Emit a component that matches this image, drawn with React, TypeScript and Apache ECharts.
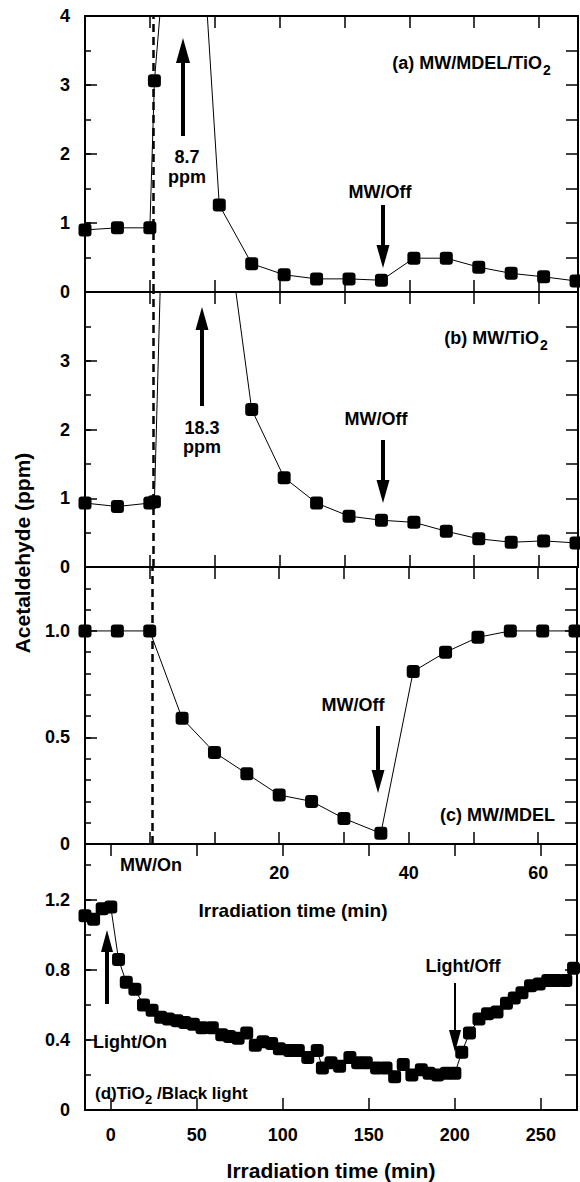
import React, { useEffect, useRef } from "react";
import * as echarts from "echarts";

const FONT = "'Liberation Sans', Arial, Helvetica, sans-serif";

// ---- Data (min, ppm) ----
const timeA = [-10, -5, 0, 0.7, 5.7, 10.7, 15.7, 20.7, 25.7, 30.7, 35.7, 40.7, 45.7, 50.7, 55.7, 60.7, 65.7];
const valA = [0.9, 0.93, 0.93, 3.06, 8.7, 1.26, 0.41, 0.25, 0.19, 0.19, 0.17, 0.49, 0.49, 0.36, 0.27, 0.22, 0.16];

const timeB = [-10, -5, 0, 0.7, 5.7, 10.7, 15.7, 20.7, 25.7, 30.7, 35.7, 40.7, 45.7, 50.7, 55.7, 60.7, 65.7];
const valB = [0.93, 0.88, 0.93, 0.95, 18.3, 5.8, 2.29, 1.3, 0.93, 0.74, 0.68, 0.65, 0.52, 0.41, 0.36, 0.38, 0.35];

const timeC = [-10, -5, 0, 5, 10, 15, 20, 25, 30, 35.7, 40.7, 45.7, 50.7, 55.7, 60.7, 65.7];
const valC = [1.0, 1.0, 1.0, 0.59, 0.43, 0.33, 0.23, 0.2, 0.12, 0.05, 0.81, 0.9, 0.97, 1.0, 1.0, 1.0];

const timeD = [
  -15, -10, -5, 0, 4.5, 9, 14, 19, 24, 29, 33.5, 38.5, 43, 48, 53, 59, 64.5, 69, 74, 79, 84, 88.5,
  93.5, 98, 104, 109, 114.5, 120, 123, 128, 133, 139, 143.5, 148.5, 154.5, 160, 165, 170, 175, 180.5,
  185, 190, 195, 200, 204, 208.5, 214, 219, 224.5, 230, 234.5, 239, 244, 249, 254, 259, 264.5, 269,
];
const valD = [
  1.11, 1.09, 1.15, 1.16, 0.86, 0.73, 0.69, 0.6, 0.57, 0.53, 0.52, 0.51, 0.5, 0.49, 0.47, 0.47, 0.43, 0.42,
  0.41, 0.44, 0.37, 0.39, 0.38, 0.35, 0.34, 0.34, 0.3, 0.34, 0.24, 0.27, 0.25, 0.3, 0.27, 0.27, 0.24, 0.24,
  0.19, 0.26, 0.2, 0.23, 0.21, 0.2, 0.21, 0.21, 0.33, 0.44, 0.52, 0.55, 0.56, 0.61, 0.64, 0.67, 0.71, 0.72,
  0.74, 0.74, 0.74, 0.81,
];

const MW_ON_TIME = 0.45;
const topAxisLabels = [20, 40, 60];
const bottomAxisStep = 50;

const yCfg = [
  { min: 0, max: 4, major: 1, minor: 0.5, hideMax: false },
  { min: 0, max: 4, major: 1, minor: 0.5, hideMax: true },
  { min: 0, max: 1.3, major: 0.5, minor: 0.1, hideMax: true },
  { min: 0, max: 1.52, major: 0.4, minor: 0.2, hideMax: true },
];

const grids = [
  { left: 85, right: 2, top: 16, height: 276 },
  { left: 85, right: 2, top: 292, height: 275 },
  { left: 85, right: 2, top: 567, height: 277 },
  { left: 85, right: 2, top: 844, height: 274 },
];

const pairs = (t: number[], v: number[]) => t.map((x, i) => [x, v[i]]);

function arrow(x: number, tail: number, tip: number, shaftW: number, headW: number, headH: number) {
  const up = tip < tail;
  const base = up ? tip + headH : tip - headH;
  const y0 = Math.min(base, tail);
  const y1 = Math.max(base, tail);
  return [
    { type: "rect", z: 100, shape: { x: x - shaftW / 2, y: y0, width: shaftW, height: y1 - y0 }, style: { fill: "#000" } },
    {
      type: "polygon",
      z: 100,
      shape: { points: [[x - headW / 2, base], [x + headW / 2, base], [x, tip]] },
      style: { fill: "#000" },
    },
  ];
}

function txt(text: string, x: number, y: number, size = 18, align = "center", rotation = 0) {
  return {
    type: "text",
    z: 100,
    x,
    y,
    rotation,
    style: {
      text,
      fill: "#000",
      font: `bold ${size}px ${FONT}`,
      align,
      verticalAlign: "middle",
      textAlign: align,
      textVerticalAlign: "middle",
    },
  };
}

export default function App() {
  const ref = useRef<HTMLDivElement>(null);
  useEffect(() => {
    const chart = echarts.init(ref.current!, null, { renderer: "svg" });
    const axisLine = { show: true, onZero: false, lineStyle: { color: "#000", width: 2 } };
    const tickStyle = { color: "#000", width: 1.5 };
    const labelBase = { color: "#000", fontFamily: FONT, fontWeight: "bold", fontSize: 18 };

    const xAxes: any[] = [];
    for (let g = 0; g < 3; g++) {
      xAxes.push({
        type: "value",
        gridIndex: g,
        position: "bottom",
        min: -10,
        max: 66,
        interval: 10,
        axisLine,
        axisTick: { show: true, inside: true, length: 12, lineStyle: tickStyle },
        axisLabel:
          g === 2
            ? { ...labelBase, margin: 20, formatter: (v: number) => (topAxisLabels.includes(v) ? String(v) : "") }
            : { show: false },
        splitLine: { show: false },
      });
      xAxes.push({
        type: "value",
        gridIndex: g,
        position: "top",
        min: -10,
        max: 66,
        interval: 10,
        axisLine,
        axisTick: { show: true, inside: true, length: 12, lineStyle: tickStyle },
        axisLabel: { show: false },
        splitLine: { show: false },
      });
    }
    xAxes.push({
      type: "value",
      gridIndex: 3,
      position: "bottom",
      min: -15,
      max: 271,
      splitNumber: 5,
      axisLine,
      axisTick: { show: true, inside: true, length: 12, lineStyle: tickStyle },
      axisLabel: {
        ...labelBase,
        margin: 16,
        formatter: (v: number) => (v % bottomAxisStep === 0 ? String(v) : ""),
      },
      splitLine: { show: false },
      name: "Irradiation time (min)",
      nameLocation: "middle",
      nameGap: 50,
      nameTextStyle: { ...labelBase, fontSize: 21 },
    });
    xAxes.push({
      type: "value",
      gridIndex: 3,
      position: "top",
      min: -15,
      max: 271,
      splitNumber: 5,
      axisLine,
      axisTick: { show: true, inside: true, length: 12, lineStyle: tickStyle },
      axisLabel: { show: false },
      splitLine: { show: false },
    });

    const yAxes: any[] = [];
    yCfg.forEach((c, g) => {
      yAxes.push({
        type: "value",
        gridIndex: g,
        position: "left",
        min: c.min,
        max: c.max,
        interval: c.major,
        axisLine,
        axisTick: { show: true, inside: true, length: 12, lineStyle: tickStyle },
        axisLabel: {
          ...labelBase,
          margin: 15,
          showMaxLabel: !c.hideMax,
          formatter: (v: number) => (v === 0 ? "0" : c.major < 1 ? v.toFixed(1) : String(v)),
        },
        splitLine: { show: false },
      });
      yAxes.push({
        type: "value",
        gridIndex: g,
        position: "left",
        min: c.min,
        max: c.max,
        interval: c.minor,
        axisLine: { show: false, onZero: false },
        axisTick: { show: true, inside: true, length: 6, lineStyle: tickStyle },
        axisLabel: { show: false },
        splitLine: { show: false },
      });
      yAxes.push({
        type: "value",
        gridIndex: g,
        position: "right",
        min: c.min,
        max: c.max,
        interval: c.minor,
        axisLine,
        axisTick: { show: true, inside: true, length: 12, lineStyle: tickStyle },
        axisLabel: { show: false },
        splitLine: { show: false },
      });
    });

    const datasets = [pairs(timeA, valA), pairs(timeB, valB), pairs(timeC, valC), pairs(timeD, valD)];
    const series = datasets.map((data, g) => ({
      type: "line",
      xAxisIndex: g * 2,
      yAxisIndex: g * 3,
      data,
      clip: true,
      symbol: "roundRect",
      symbolSize: 13,
      itemStyle: { color: "#000" },
      lineStyle: { color: "#000", width: 1 },
      markLine:
        g < 3
          ? {
              silent: true,
              symbol: ["none", "none"],
              label: { show: false },
              lineStyle: { color: "#000", type: [8, 5], width: 2.5 },
              data: [{ xAxis: MW_ON_TIME }],
            }
          : undefined,
    }));

    const graphic: any[] = [
      // panel (a)
      txt("(a) MW/MDEL/TiO", 542, 63, 18, "right"),
      txt("2", 543, 70, 14, "left"),
      ...arrow(183, 136, 38, 4, 14, 25),
      txt("8.7", 187, 157),
      txt("ppm", 187, 177),
      txt("MW/Off", 380, 192),
      ...arrow(383, 205, 268, 4, 13, 23),
      // panel (b)
      txt("(b) MW/TiO", 539, 338, 18, "right"),
      txt("2", 540, 345, 14, "left"),
      ...arrow(202, 406, 307, 4, 13, 23),
      txt("18.3", 202, 428),
      txt("ppm", 202, 447),
      txt("MW/Off", 376, 419),
      ...arrow(383, 440, 503, 4, 13, 23),
      // panel (c)
      txt("MW/Off", 353, 705),
      ...arrow(378, 726, 793, 4, 13, 23),
      txt("(c) MW/MDEL", 555, 815, 18, "right"),
      // shared time axis for (a)-(c)
      txt("MW/On", 151, 865),
      txt("Irradiation time (min)", 293, 910, 19),
      // panel (d)
      ...arrow(107, 1004, 930, 4, 12, 22),
      txt("Light/On", 93, 1042, 18, "left"),
      txt("(d)TiO", 95, 1093, 17, "left"),
      txt("2", 145, 1099, 13, "left"),
      txt("/Black light", 157, 1093, 17, "left"),
      txt("Light/Off", 463, 966),
      ...arrow(455, 983, 1052, 2, 12, 22),
      // y title
      txt("Acetaldehyde (ppm)", 22, 553, 21, "center", Math.PI / 2),
    ];

    chart.setOption({
      animation: false,
      backgroundColor: "#fff",
      grid: grids,
      xAxis: xAxes,
      yAxis: yAxes,
      series,
      graphic,
    });
    return () => chart.dispose();
  }, []);
  return (
    <div
      ref={ref}
      style={{ position: "absolute", left: 0, top: 0, width: 580, height: 1182, background: "#fff" }}
    />
  );
}
